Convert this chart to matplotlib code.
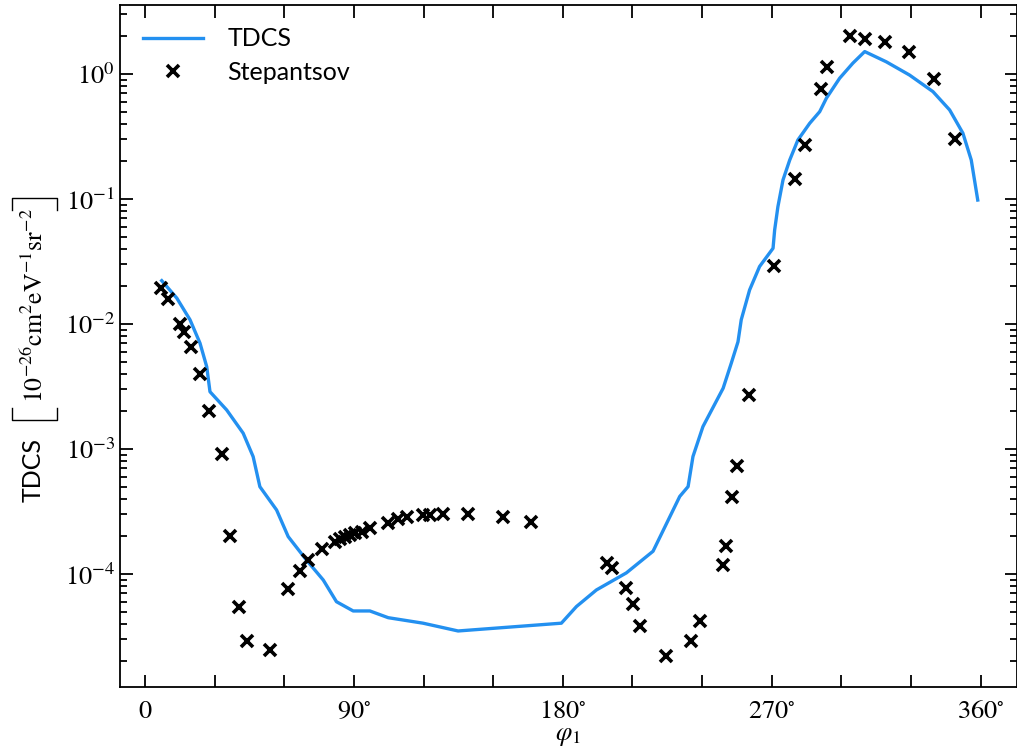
import numpy as np
import matplotlib
matplotlib.use("Agg")
import matplotlib.pyplot as plt
from matplotlib.lines import Line2D
from matplotlib.ticker import MultipleLocator, LogLocator, FixedLocator, NullFormatter

plt.rcParams['mathtext.fontset'] = 'stix'
plt.rcParams['font.family'] = ['Lato', 'DejaVu Sans']

# TDCS theory curve
tdcs_phi = [7.2, 13.7, 19.4, 23.7, 26.6, 28.0, 35.2, 42.3, 46.6, 49.5, 56.7, 61.7,
            69.6, 76.8, 82.5, 89.7, 96.9, 104.8, 119.8, 134.9, 179.4, 185.9, 194.5,
            207.4, 218.9, 230.4, 234.0, 236.1, 240.4, 249.1, 252.6, 255.5, 256.9,
            260.5, 264.8, 270.6, 271.3, 272.7, 274.9, 277.8, 281.3, 286.4, 290.7,
            293.6, 299.3, 305.0, 310.1, 319.4, 329.4, 339.5, 346.7, 352.4, 356.0,
            358.8]
tdcs_val = [0.0222, 0.0161, 0.0108, 0.00702, 0.00455, 0.00287, 0.00205, 0.001337,
            8.68e-4, 4.99e-4, 3.25e-4, 1.99e-4, 1.29e-4, 8.95e-5, 6.0e-5, 5.06e-5,
            5.06e-5, 4.47e-5, 4.04e-5, 3.5e-5, 4.04e-5, 5.49e-5, 7.45e-5, 1.02e-4,
            1.52e-4, 4.17e-4, 5.0e-4, 8.7e-4, 1.51e-3, 3.06e-3, 4.85e-3, 7.2e-3,
            0.0108, 0.0187, 0.0288, 0.0403, 0.0565, 0.0867, 0.142, 0.205, 0.296,
            0.403, 0.499, 0.64, 0.924, 1.22, 1.51, 1.25, 0.98, 0.722, 0.515, 0.336,
            0.205, 0.098]

# Stepantsov experimental data
exp_phi = [6.9, 9.8, 15.1, 16.9, 19.8, 23.7, 27.7, 33.0, 36.6, 40.6, 43.8, 53.8,
           61.7, 66.8, 70.3, 76.1, 81.8, 84.0, 86.1, 88.3, 90.4, 93.3, 96.9,
           104.8, 109.1, 112.7, 119.9, 122.7, 128.4, 139.2, 154.3, 166.2, 199.2,
           201.4, 207.1, 210.3, 213.4, 224.4, 235.1, 239.0, 249.0, 250.2, 253.1,
           254.9, 260.1, 270.9, 279.9, 284.2, 291.1, 294.0, 303.9, 310.1, 319.0,
           329.0, 339.8, 348.8]
exp_val = [0.0193, 0.0158, 0.0100, 0.0087, 0.0065, 0.0040, 0.0020, 9.06e-4,
           2.01e-4, 5.41e-5, 2.91e-5, 2.47e-5, 7.59e-5, 1.06e-4, 1.29e-4, 1.58e-4,
           1.81e-4, 1.90e-4, 1.99e-4, 2.05e-4, 2.12e-4, 2.18e-4, 2.32e-4, 2.55e-4,
           2.74e-4, 2.84e-4, 2.96e-4, 2.96e-4, 3.02e-4, 3.02e-4, 2.84e-4, 2.59e-4,
           1.23e-4, 1.11e-4, 7.68e-5, 5.72e-5, 3.84e-5, 2.22e-5, 2.91e-5, 4.21e-5,
           1.18e-4, 1.66e-4, 4.1e-4, 7.3e-4, 2.7e-3, 0.0291, 0.1445, 0.27, 0.754,
           1.13, 2.01, 1.91, 1.81, 1.51, 0.906, 0.3]

x_ticks = [0, 90, 180, 270, 360]
x_labels = ['$0$', r'$90^{\circ}$', r'$180^{\circ}$', r'$270^{\circ}$', r'$360^{\circ}$']
y_ticks = [1e-4, 1e-3, 1e-2, 1e-1, 1e0]
y_labels = ['$10^{-4}$', '$10^{-3}$', '$10^{-2}$', '$10^{-1}$', '$10^{0}$']

W, H = 1017, 749
fig = plt.figure(figsize=(W/100, H/100), dpi=100)
ax = fig.add_axes([120/W, 1-687/H, 896.5/W, 682/H])

ax.plot(tdcs_phi, tdcs_val, color='#2390f0', lw=2.4, label='TDCS')
ax.plot(exp_phi, exp_val, 'x', color='black', ms=8.5, mew=2.6, label='Stepantsov')

ax.set_yscale('log')
ax.set_xlim(-10.77, 375.5)
ax.set_ylim(1.247e-5, 3.56)

ax.set_xticks(x_ticks)
ax.set_xticklabels(x_labels)
ax.xaxis.set_minor_locator(MultipleLocator(30))
ax.yaxis.set_major_locator(FixedLocator(y_ticks))
ax.set_yticklabels(y_labels)
ax.yaxis.set_minor_locator(LogLocator(base=10, subs=np.arange(2, 10), numticks=20))
ax.yaxis.set_minor_formatter(NullFormatter())

ax.tick_params(which='both', direction='in', top=True, right=True, labelsize=19, width=1.3)
ax.tick_params(which='major', length=9)
ax.tick_params(which='minor', length=5)
ax.tick_params(axis='x', which='minor', length=9)
ax.tick_params(axis='x', which='major', pad=8)
for s in ax.spines.values():
    s.set_linewidth(1.3)

ax.set_xlabel(r'$\varphi_1$', fontsize=19, labelpad=0)

# y label built from pieces so the brackets can be tall
def ytext(px, py, s, **kw):
    fig.text(px/W, 1-py/H, s, rotation=90, ha='center', va='center', **kw)

def bracket(pts):
    xs = [p[0]/W for p in pts]
    ys = [1-p[1]/H for p in pts]
    fig.add_artist(Line2D(xs, ys, transform=fig.transFigure, color='black', lw=1.0))

ytext(33, 470, 'TDCS', fontsize=18)
ytext(35, 306, r'$10^{-26}\mathrm{cm}^2\mathrm{eV}^{-1}\mathrm{sr}^{-2}$', fontsize=18.5)
bracket([(12, 408), (12, 420), (57, 420), (57, 408)])
bracket([(12, 210), (12, 198), (57, 198), (57, 210)])

ax.legend(loc='upper left', frameon=False, fontsize=18, handlelength=2.4,
          handletextpad=1.0, borderaxespad=0.5, labelspacing=0.4)

fig.savefig('out.png', dpi=100)
